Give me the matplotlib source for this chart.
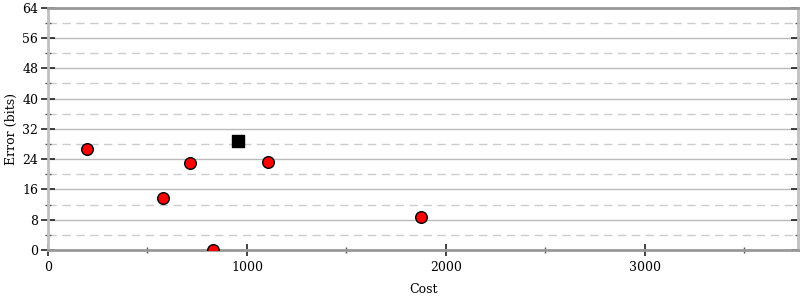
import matplotlib
matplotlib.use("Agg")
import matplotlib.pyplot as plt
from matplotlib.ticker import MultipleLocator

# points
cost = [196, 578, 714, 829, 1106, 1874]
error = [26.7, 13.7, 23.0, 0.0, 23.3, 8.7]
best_cost = [955]
best_error = [28.7]

plt.rcParams['font.family'] = ['DejaVu Serif']

fig = plt.figure(figsize=(8, 3), dpi=100)
ax = fig.add_axes([0.06, 0.167, 0.9375, 0.807])

ax.set_xlim(0, 3770)
ax.set_ylim(0, 64)

ax.xaxis.set_major_locator(MultipleLocator(1000))
ax.xaxis.set_minor_locator(MultipleLocator(500))
ax.yaxis.set_major_locator(MultipleLocator(8))
ax.yaxis.set_minor_locator(MultipleLocator(4))

ax.grid(True, which='major', axis='y', color='#bbbbbb', lw=1, ls='-')
ax.grid(True, which='minor', axis='y', color='#cccccc', lw=1, ls=(0, (6, 4)))
ax.set_axisbelow(True)

for s in ['left', 'right']:
    ax.spines[s].set_color('#c0c0c0')
    ax.spines[s].set_linewidth(2)
for s in ['top', 'bottom']:
    ax.spines[s].set_color('#999999')
    ax.spines[s].set_linewidth(2)

ax.tick_params(which='major', direction='inout', length=10, width=1.2,
               color='#222222', right=True, labelsize=9)
ax.tick_params(which='minor', direction='inout', length=5, width=1,
               color='#555555', right=True)
ax.tick_params(axis='x', which='major', length=8, pad=4)
ax.tick_params(axis='y', which='major', pad=2)

ax.scatter(cost, error, s=70, c='red', edgecolors='black', linewidths=1,
           zorder=3, clip_on=True)
ax.scatter(best_cost, best_error, s=85, c='black', marker='s', zorder=3)

ax.set_xlabel('Cost', fontsize=9)
ax.set_ylabel('Error (bits)', fontsize=9)
ax.xaxis.set_label_coords(0.5, -0.135)
ax.yaxis.set_label_coords(-0.04, 0.5)

fig.savefig('out.png', dpi=100)
